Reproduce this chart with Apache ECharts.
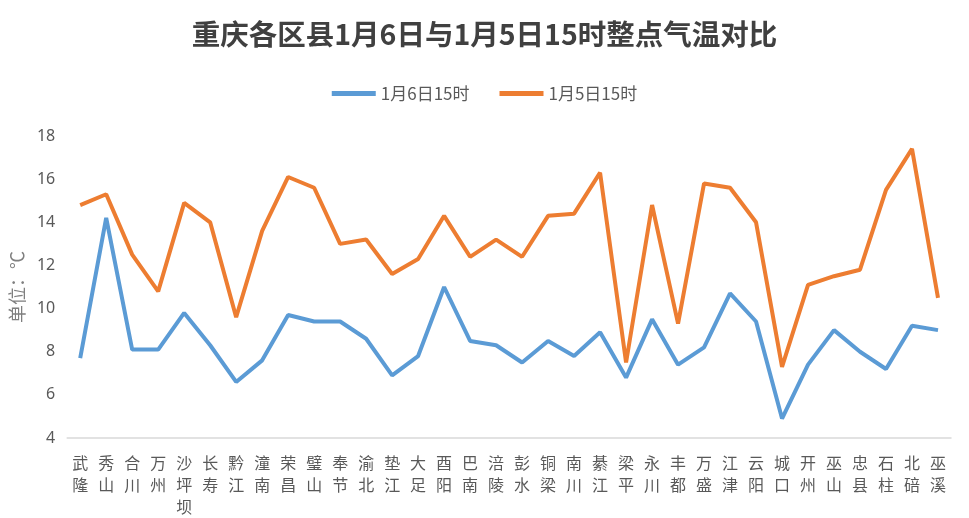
<!DOCTYPE html>
<html>
<head>
<meta charset="utf-8">
<script src="https://cdn.jsdelivr.net/npm/echarts@6/dist/echarts.min.js"></script>
<style>
  html, body { margin: 0; padding: 0; background: #fff; }
  #chart { width: 969px; height: 518px; }
</style>
</head>
<body>
<div id="chart"></div>
<script>
const districts = ['武隆', '秀山', '合川', '万州', '沙坪坝', '长寿', '黔江', '潼南', '荣昌', '璧山', '奉节', '渝北', '垫江', '大足', '酉阳', '巴南', '涪陵', '彭水', '铜梁', '南川', '綦江', '梁平', '永川', '丰都', '万盛', '江津', '云阳', '城口', '开州', '巫山', '忠县', '石柱', '北碚', '巫溪']
const jan6 = [7.7, 14.2, 8.1, 8.1, 9.8, 8.3, 6.6, 7.6, 9.7, 9.4, 9.4, 8.6, 6.9, 7.8, 11.0, 8.5, 8.3, 7.5, 8.5, 7.8, 8.9, 6.8, 9.5, 7.4, 8.2, 10.7, 9.4, 4.9, 7.4, 9.0, 8.0, 7.2, 9.2, 9.0]
const jan5 = [14.8, 15.3, 12.5, 10.8, 14.9, 14.0, 9.6, 13.6, 16.1, 15.6, 13.0, 13.2, 11.6, 12.3, 14.3, 12.4, 13.2, 12.4, 14.3, 14.4, 16.3, 7.5, 14.8, 9.3, 15.8, 15.6, 14.0, 7.3, 11.1, 11.5, 11.8, 15.5, 17.4, 10.5]

const fontCN = '"Noto Sans CJK SC", "Noto Sans", sans-serif'
const chart = echarts.init(document.getElementById('chart'))

chart.setOption({
  animation: false,
  title: {
    text: '重庆各区县1月6日与1月5日15时整点气温对比',
    left: 'center',
    top: 15,
    textStyle: { fontFamily: fontCN, fontSize: 28.5, fontWeight: 'bold', color: '#404040' }
  },
  legend: {
    top: 80,
    left: 'center',
    itemWidth: 44,
    itemHeight: 5,
    itemGap: 30,
    icon: 'rect',
    textStyle: { fontFamily: fontCN, fontSize: 17, color: '#595959' },
    data: ['1月6日15时', '1月5日15时']
  },
  grid: { left: 66, right: 18, top: 136, bottom: 77 },
  xAxis: {
    type: 'category',
    data: districts,
    boundaryGap: true,
    axisLine: { lineStyle: { color: '#d9d9d9', width: 1.5 } },
    axisTick: { show: false },
    axisLabel: {
      interval: 0,
      margin: 14,
      fontFamily: fontCN,
      fontSize: 16,
      lineHeight: 22,
      color: '#595959',
      formatter: v => v.split('').join('\n')
    }
  },
  yAxis: {
    type: 'value',
    min: 4,
    max: 18,
    interval: 2,
    name: '单位：℃',
    nameLocation: 'middle',
    nameGap: 36,
    nameTextStyle: { fontFamily: fontCN, fontSize: 18, color: '#7f7f7f' },
    axisLine: { show: false },
    axisTick: { show: false },
    splitLine: { show: false },
    axisLabel: { fontFamily: '"Noto Sans", sans-serif', fontSize: 16, color: '#595959', margin: 12 }
  },
  series: [
    {
      name: '1月6日15时',
      type: 'line',
      data: jan6,
      showSymbol: false,
      symbol: 'none',
      lineStyle: { color: '#5B9BD5', width: 4 },
      itemStyle: { color: '#5B9BD5' }
    },
    {
      name: '1月5日15时',
      type: 'line',
      data: jan5,
      showSymbol: false,
      symbol: 'none',
      lineStyle: { color: '#ED7D31', width: 4 },
      itemStyle: { color: '#ED7D31' }
    }
  ]
})
</script>
</body>
</html>
